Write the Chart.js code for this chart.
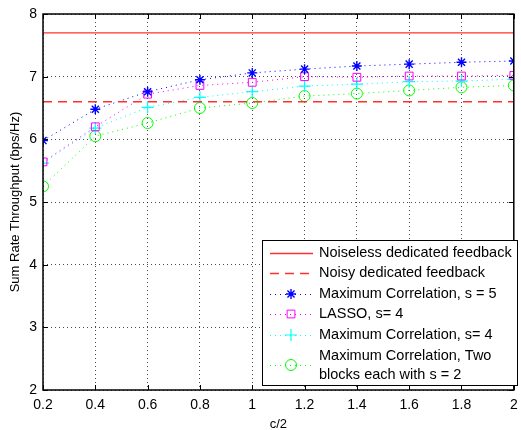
<!DOCTYPE html>
<html><head><meta charset="utf-8">
<script src="https://cdn.jsdelivr.net/npm/chart.js@4/dist/chart.umd.min.js"></script>
<style>html,body{margin:0;padding:0;background:#fff;}canvas{display:block;}</style>
</head><body>
<canvas id="c" width="521" height="430"></canvas>
<script>
const xValues = [0.2, 0.4, 0.6, 0.8, 1.0, 1.2, 1.4, 1.6, 1.8, 2.0];
const xTickLabels = ['0.2','0.4','0.6','0.8','1','1.2','1.4','1.6','1.8','2'];
const yTickLabels = ['2','3','4','5','6','7','8'];
const noiselessValue = 7.7;
const noisyValue = 6.6;
const maxCorrS5 = [5.98, 6.48, 6.76, 6.95, 7.06, 7.12, 7.17, 7.20, 7.23, 7.25];
const lassoS4   = [5.64, 6.20, 6.72, 6.86, 6.91, 7.00, 6.99, 7.01, 7.01, 7.02];
const maxCorrS4 = [5.62, 6.18, 6.51, 6.67, 6.76, 6.85, 6.88, 6.92, 6.93, 6.96];
const twoBlocks = [5.25, 6.05, 6.26, 6.50, 6.58, 6.69, 6.73, 6.78, 6.83, 6.86];
const legendLabels = [
  ['Noiseless dedicated feedback'],
  ['Noisy dedicated feedback'],
  ['Maximum Correlation, s = 5'],
  ['LASSO, s= 4'],
  ['Maximum Correlation, s= 4'],
  ['Maximum Correlation, Two', 'blocks each with s = 2']
];

const FONT = '"Liberation Sans", Arial, Helvetica, sans-serif';
const pts = arr => arr.map((v, i) => ({x: xValues[i], y: v}));
const hline = v => [{x: xValues[0], y: v}, {x: xValues[xValues.length-1], y: v}];

const datasets = [
  {data: hline(noiselessValue), borderColor: '#ff3030', borderWidth: 1.3, borderDash: [], pointRadius: 0},
  {data: hline(noisyValue), borderColor: '#ff3030', borderWidth: 1.3, borderDash: [9, 6], pointRadius: 0},
  {data: pts(maxCorrS5), borderColor: '#0000ff', pointStyle: 'star', pointRadius: 5, pointBorderWidth: 1.4},
  {data: pts(lassoS4), borderColor: '#ff00ff', pointStyle: 'rect', pointRadius: 5.5},
  {data: pts(maxCorrS4), borderColor: '#00ffff', pointStyle: 'cross', pointRadius: 6, pointBorderWidth: 1.2},
  {data: pts(twoBlocks), borderColor: '#00ff00', pointStyle: 'circle', pointRadius: 5.5}
].map((d, i) => Object.assign({
  label: legendLabels[i].join(' '),
  borderWidth: 1,
  borderDash: [1, 4],
  backgroundColor: 'rgba(0,0,0,0)',
  pointBackgroundColor: 'rgba(0,0,0,0)',
  pointBorderWidth: 1,
  fill: false,
  tension: 0
}, d, {pointBorderColor: d.borderColor}));

const frame = {
  id: 'frame',
  afterDatasetsDraw(chart) {
    const {ctx, chartArea: a, scales} = chart;
    ctx.save();
    ctx.strokeStyle = '#000';
    ctx.lineWidth = 1;
    ctx.setLineDash([]);
    ctx.beginPath();
    xValues.forEach(v => {
      const px = Math.round(scales.x.getPixelForValue(v)) + 0.5;
      ctx.moveTo(px, a.bottom); ctx.lineTo(px, a.bottom - 5);
      ctx.moveTo(px, a.top); ctx.lineTo(px, a.top + 5);
    });
    yTickLabels.forEach(t => {
      const py = Math.round(scales.y.getPixelForValue(+t)) + 0.5;
      ctx.moveTo(a.left, py); ctx.lineTo(a.left + 5, py);
      ctx.moveTo(a.right, py); ctx.lineTo(a.right - 5, py);
    });
    ctx.stroke();
    ctx.lineWidth = 1.5;
    ctx.strokeRect(a.left, a.top, a.right - a.left, a.bottom - a.top);
    ctx.restore();
  }
};

const legendBox = {
  id: 'legendBox',
  afterDraw(chart) {
    const {ctx} = chart;
    const bx = 262, by = 240, bw = 255, bh = 145;
    ctx.save();
    ctx.fillStyle = '#fff';
    ctx.fillRect(bx, by, bw, bh);
    ctx.strokeStyle = '#000';
    ctx.lineWidth = 1;
    ctx.strokeRect(bx + 0.5, by + 0.5, bw, bh);
    const rowsY = [253, 273, 294, 314, 335];
    const x0 = 270, x1 = 313, xm = 291, tx = 319;
    ctx.font = '14.5px ' + FONT;
    ctx.textBaseline = 'middle';
    ctx.textAlign = 'left';
    chart.data.datasets.forEach((ds, i) => {
      let yc, ty;
      if (i < 5) { yc = rowsY[i]; ty = [rowsY[i]]; }
      else { yc = 365; ty = [356, 375]; }
      ctx.strokeStyle = ds.borderColor;
      ctx.lineWidth = ds.borderWidth;
      ctx.setLineDash(ds.borderDash || []);
      ctx.beginPath(); ctx.moveTo(x0, yc + 0.5); ctx.lineTo(x1, yc + 0.5); ctx.stroke();
      ctx.setLineDash([]);
      if (ds.pointRadius > 0) {
        ctx.strokeStyle = ds.borderColor;
        ctx.fillStyle = 'rgba(0,0,0,0)';
        ctx.lineWidth = ds.pointBorderWidth;
        Chart.helpers.drawPoint(ctx, {pointStyle: ds.pointStyle, radius: ds.pointRadius, borderWidth: ds.pointBorderWidth, rotation: 0}, xm, yc);
      }
      ctx.fillStyle = '#000';
      legendLabels[i].forEach((t, k) => ctx.fillText(t, tx, ty[k]));
    });
    ctx.restore();
  }
};

new Chart(document.getElementById('c'), {
  type: 'line',
  data: {datasets},
  options: {
    responsive: false,
    animation: false,
    devicePixelRatio: 1,
    layout: {padding: {top: 14, right: 1, left: 0, bottom: 0}},
    plugins: {legend: {display: false}, tooltip: {enabled: false}},
    scales: {
      x: {
        type: 'linear', min: 0.2, max: 2,
        afterBuildTicks: s => { s.ticks = xValues.map(v => ({value: v})); },
        afterFit: s => { s.height = 40; s.paddingLeft = 0; s.paddingRight = 0; },
        ticks: {
          autoSkip: false, maxRotation: 0, padding: 7, color: '#000',
          font: {family: FONT, size: 14},
          callback: (v, i) => xTickLabels[i]
        },
        grid: {color: 'rgba(0,0,0,0.7)', drawTicks: false, lineWidth: 1},
        border: {display: false, dash: [1, 3]},
        title: {display: true, text: 'c/2', color: '#000', font: {family: FONT, size: 13}, padding: {top: 0, bottom: -2}}
      },
      y: {
        type: 'linear', min: 2, max: 8,
        afterBuildTicks: s => { s.ticks = yTickLabels.map(v => ({value: +v})); },
        afterFit: s => { s.width = 43; s.paddingTop = 0; s.paddingBottom = 0; },
        ticks: {
          autoSkip: false, padding: 6, color: '#000',
          font: {family: FONT, size: 14},
          callback: (v, i) => yTickLabels[i]
        },
        grid: {color: 'rgba(0,0,0,0.7)', drawTicks: false, lineWidth: 1},
        border: {display: false, dash: [1, 3]},
        title: {display: true, text: 'Sum Rate Throughput (bps/Hz)', color: '#000', font: {family: FONT, size: 13}, padding: {top: 8, bottom: 0}}
      }
    }
  },
  plugins: [frame, legendBox]
});
</script>
</body></html>
